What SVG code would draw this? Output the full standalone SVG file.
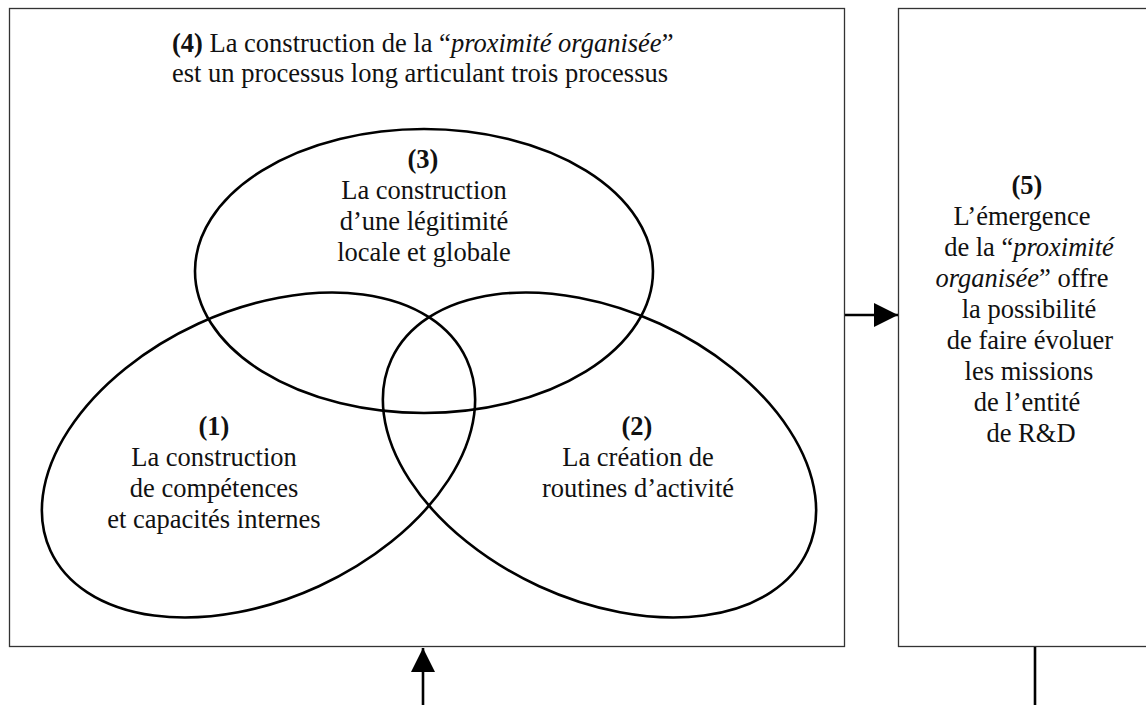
<svg xmlns="http://www.w3.org/2000/svg" width="1146" height="705" viewBox="0 0 1146 705">
<defs>
<style>
text{font-family:"Liberation Serif","Times New Roman",serif;font-size:26.5px;fill:#111}
.c{text-anchor:middle}
.b{font-weight:bold}
.i{font-style:italic}
.box{fill:none;stroke:#333;stroke-width:1.3}
.ell{fill:none;stroke:#000;stroke-width:2.6}
.conn{stroke:#000;stroke-width:2.6;fill:none}
</style>
<marker id="ah" viewBox="0 0 10 10" refX="10" refY="5" markerUnits="userSpaceOnUse" markerWidth="24" markerHeight="26" orient="auto">
<path d="M0,0 L10,5 L0,10 Z" fill="#000"/>
</marker>
</defs>
<rect width="1146" height="705" fill="#fff"/>

<g id="node4">
<rect class="box" x="9.5" y="8.5" width="835" height="638"/>
<text x="172" y="52"><tspan class="b">(4)</tspan> La construction de la “<tspan class="i">proximité organisée</tspan>”</text>
<text x="172" y="82">est un processus long articulant trois processus</text>
</g>

<g id="node3">
<ellipse class="ell" cx="424" cy="271" rx="229" ry="142"/>
<text class="c b" x="423" y="168">(3)</text>
<text class="c" x="424" y="199">La construction</text>
<text class="c" x="424" y="230">d’une légitimité</text>
<text class="c" x="424" y="261">locale et globale</text>
</g>

<g id="node1">
<ellipse class="ell" cx="258.5" cy="455" rx="229" ry="144.5" transform="rotate(-24.7 258.5 455)"/>
<text class="c b" x="214" y="435">(1)</text>
<text class="c" x="214" y="466">La construction</text>
<text class="c" x="214" y="497">de compétences</text>
<text class="c" x="214" y="528">et capacités internes</text>
</g>

<g id="node2">
<ellipse class="ell" cx="599.5" cy="455" rx="229" ry="144.5" transform="rotate(24.7 599.5 455)"/>
<text class="c b" x="637" y="435">(2)</text>
<text class="c" x="638" y="466">La création de</text>
<text class="c" x="638" y="497">routines d’activité</text>
</g>

<g id="node5">
<rect class="box" x="898.5" y="8.5" width="300" height="638"/>
<text class="c b" x="1027" y="194">(5)</text>
<text class="c" x="1022" y="225">L’émergence</text>
<text class="c" x="1029" y="256">de la “<tspan class="i">proximité</tspan></text>
<text class="c" x="1022" y="287"><tspan class="i">organisée</tspan>” offre</text>
<text class="c" x="1029" y="318">la possibilité</text>
<text class="c" x="1030" y="349">de faire évoluer</text>
<text class="c" x="1029" y="380">les missions</text>
<text class="c" x="1027" y="411">de l’entité</text>
<text class="c" x="1031" y="442">de R&amp;D</text>
</g>

<g id="connectors">
<line class="conn" x1="845" y1="315" x2="898" y2="315" marker-end="url(#ah)"/>
<line class="conn" x1="423" y1="705" x2="423" y2="648" marker-end="url(#ah)"/>
<line class="conn" x1="1035" y1="647" x2="1035" y2="705"/>
</g>
</svg>
